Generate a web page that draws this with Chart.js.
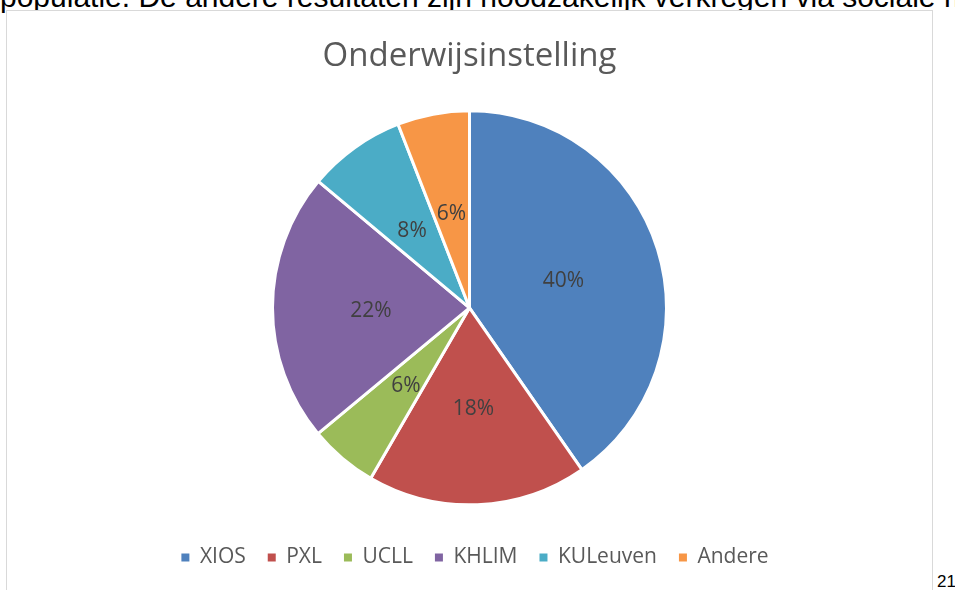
<!DOCTYPE html>
<html>
<head>
<meta charset="utf-8">
<script src="https://cdn.jsdelivr.net/npm/chart.js@4/dist/chart.umd.min.js"></script>
<style>
  html, body { margin: 0; padding: 0; background: #ffffff; }
  body { width: 955px; height: 590px; position: relative; overflow: hidden; }
  #toptext {
    position: absolute; left: 0; top: -20px; white-space: nowrap;
    font-family: "Liberation Sans", Arial, sans-serif; font-size: 30px; line-height: 34px; color: #000;
  }
  #box {
    position: absolute; left: 6px; top: 10px; width: 925px; height: 600px;
    border: 1px solid #d9d9d9; background: #fff;
  }
  #wrap { position: absolute; left: 0; top: 0; width: 925px; height: 579px; }
  #pagenum {
    position: absolute; left: 937px; top: 572px;
    font-family: "Liberation Sans", Arial, sans-serif; font-size: 17px; color: #000;
  }
</style>
</head>
<body>
<div id="toptext">populatie. De andere resultaten zijn noodzakelijk verkregen via sociale media</div>
<div id="box"><div id="wrap"><canvas id="c"></canvas></div></div>
<div id="pagenum">21</div>
<script>
const titleText = "Onderwijsinstelling";
const categories = ["XIOS", "PXL", "UCLL", "KHLIM", "KULeuven", "Andere"];
const shares = [40.3, 18.0, 5.6, 22.1, 8.0, 5.9];
const sliceColors = ["#4F81BD", "#C0504D", "#9BBB59", "#8064A2", "#4BACC6", "#F79646"];

const labelPlugin = {
  id: "sliceLabels",
  afterLayout(chart) {
    if (chart.legend) { chart.legend.left += 11; }
  },
  afterDatasetsDraw(chart) {
    const ctx = chart.ctx;
    const meta = chart.getDatasetMeta(0);
    const data = chart.data.datasets[0].data;
    const total = data.reduce((a, b) => a + b, 0);
    ctx.save();
    ctx.font = '21px "Open Sans"';
    ctx.fillStyle = "#404040";
    ctx.textAlign = "center";
    ctx.textBaseline = "middle";
    meta.data.forEach((arc, i) => {
      const p = arc.tooltipPosition();
      ctx.fillText(Math.round(data[i] / total * 100) + "%", p.x, p.y + 3);
    });
    ctx.restore();
  }
};

new Chart(document.getElementById("c"), {
  type: "pie",
  data: {
    labels: categories,
    datasets: [{
      data: shares,
      backgroundColor: sliceColors,
      borderColor: "#ffffff",
      borderWidth: 3,
      radius: 197
    }]
  },
  options: {
    responsive: true,
    maintainAspectRatio: false,
    animation: false,
    layout: { padding: { top: 0, bottom: 12, left: 0, right: 0 } },
    plugins: {
      title: {
        display: true,
        text: titleText,
        color: "#595959",
        font: { family: "Open Sans", size: 33, weight: "normal" },
        padding: { top: 26, bottom: 14 }
      },
      legend: {
        position: "bottom",
        labels: {
          color: "#595959",
          font: { family: "Open Sans", size: 21 },
          boxWidth: 8,
          boxHeight: 8,
          padding: 22,
          generateLabels(chart) {
            const items = Chart.overrides.pie.plugins.legend.labels.generateLabels(chart);
            items.forEach(it => { it.lineWidth = 0; it.strokeStyle = "rgba(0,0,0,0)"; });
            return items;
          }
        }
      },
      tooltip: { enabled: false }
    }
  },
  plugins: [labelPlugin]
});
</script>
</body>
</html>
